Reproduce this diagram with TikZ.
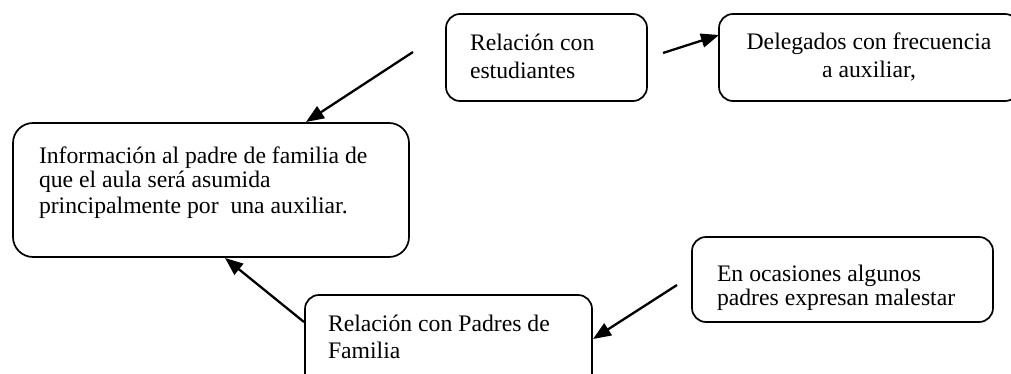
\documentclass[tikz,border=0pt]{standalone}
\usepackage{fontspec}
\setmainfont{Liberation Serif}
\usetikzlibrary{arrows.meta}
\tikzset{
  box/.style={draw=black, line width=1.7pt, rounded corners=14pt, inner sep=0pt, outer sep=0pt, fill=white},
  txt/.style={inner sep=0pt, outer sep=0pt, anchor=base west, align=left},
  arr/.style={line width=2.3pt, -{Triangle[length=18pt,width=14pt]}},
}
\begin{document}
\begin{tikzpicture}[x=1pt,y=-1pt]
\clip (0,0) rectangle (1011,374);
\fill[white] (0,0) rectangle (1011,374);
% boxes
\node[box, minimum width=201pt, minimum height=87pt] (b1) at (546.5,57.5) {};
\node[box, minimum width=300pt, minimum height=87pt] (b2) at (869,57.5) {};
\node[box, rounded corners=20pt, minimum width=396pt, minimum height=134pt] (b3) at (211,190) {};
\node[box, minimum width=301pt, minimum height=85pt] (b4) at (842.5,279.5) {};
\node[box, minimum width=287pt, minimum height=100pt] (b5) at (448.5,345) {};
% texts (base anchor = baseline of the last line)
\node[txt, font=\fontsize{23.7}{28}\selectfont] (t1) at (470,79) {Relación con\\estudiantes};
\node[txt, anchor=base, align=center, font=\fontsize{23.7}{28}\selectfont] (t2) at (869,78) {Delegados con frecuencia\\a auxiliar,};
\node[txt, font=\fontsize{23.7}{25}\selectfont] (t3) at (39,213) {Información al padre de familia de\\que el aula será asumida\\principalmente por\ \ una auxiliar.};
\node[txt, font=\fontsize{23.7}{24}\selectfont] (t4) at (717,305) {En ocasiones algunos\\padres expresan malestar};
\node[txt, font=\fontsize{23.7}{27}\selectfont] (t5) at (328,358) {Relación con Padres de\\Familia};
% connector ends
\coordinate (a1s) at (413,52);
\coordinate (a1e) at (306,122);
\coordinate (a2s) at (663,53);
\coordinate (a2e) at (719,35);
\coordinate (a3s) at (304,322);
\coordinate (a3e) at (225,258);
\coordinate (a4s) at (677,285);
\coordinate (a4e) at (593,339);
\draw[arr] (a1s) -- (a1e);
\draw[arr] (a2s) -- (a2e);
\draw[arr] (a3s) -- (a3e);
\draw[arr] (a4s) -- (a4e);
\end{tikzpicture}
\end{document}
